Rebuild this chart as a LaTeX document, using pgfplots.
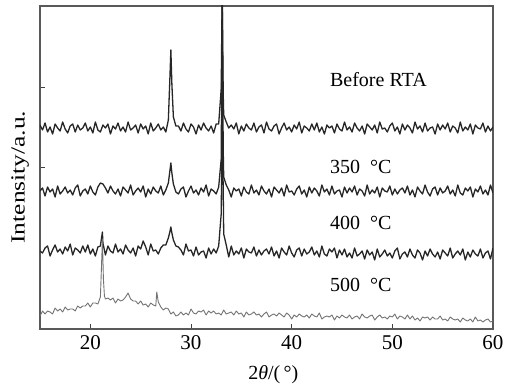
\documentclass[border=0pt]{standalone}
\usepackage{pgfplots}
\pgfplotsset{compat=1.18}
\usepackage{graphicx}
\usepackage{fontspec}
\setmainfont{Liberation Serif}
\begin{document}
\begin{tikzpicture}
\useasboundingbox (-40pt,-61pt) rectangle (480pt,329pt);
\begin{axis}[
  at={(0,0)}, anchor=south west,
  scale only axis, width=453pt, height=323pt,
  xmin=15, xmax=60, ymin=0, ymax=323,
  xtick={20,30,40,50,60},
  ytick={162,242}, yticklabels={},
  xtick pos=bottom, ytick pos=left,
  tick align=inside,
  major tick length=5pt,
  axis line style={draw=black!65, line width=1.1pt},
  tick style={draw=black!75, line width=0.9pt},
  /pgf/number format/assume math mode=true,
  ticklabel style={font=\fontsize{21}{24}\selectfont},
  xticklabel style={yshift=-3pt},
  label style={font=\fontsize{20}{24}\selectfont},
  xlabel={2\textit{θ}/(\,°)},
  ylabel={\scalebox{1.27}[1]{Intensity/a.u.}},
  xlabel style={at={(axis description cs:0.515,-0.142)}, anchor=center},
  ylabel style={at={(axis description cs:-0.044,0.47)}, anchor=center},
  clip=true,
]
% Before RTA
\addplot[black!85, line width=1.3pt, line join=round] coordinates {
(15,204)(15.25,199)(15.5,206)(15.75,197)(16,202)(16.25,195)(16.5,205)(16.75,201)(17,198)(17.25,207)
(17.5,200)(17.75,196)(18,203)(18.25,205)(18.5,197)(18.75,204)(19,199)(19.25,201)(19.5,206)(19.75,198)
(20,202)(20.25,196)(20.5,207)(20.75,199)(21,197)(21.25,204)(21.5,201)(21.75,205)(22,195)(22.25,203)
(22.5,200)(22.75,206)(23,198)(23.25,202)(23.5,197)(23.75,207)(24,199)(24.25,201)(24.5,204)(24.75,196)
(25,205)(25.25,200)(25.5,203)(25.75,195)(26,206)(26.25,198)(26.5,201)(26.75,205)(27,199)(27.25,202)
(27.5,197)(27.75,209)(27.9,250)(28,279)(28.1,245)(28.25,212)(28.5,203)(28.75,203)(29,198)(29.25,206)
(29.5,200)(29.75,197)(30,205)(30.25,202)(30.5,195)(30.75,204)(31,199)(31.25,206)(31.5,201)(31.75,198)
(32,203)(32.25,196)(32.5,205)(32.75,205)(33,240)(33.1,340)(33.2,236)(33.25,214)(33.5,207)(33.75,201)
(34,204)(34.25,200)(34.5,206)(34.75,195)(35,203)(35.25,198)(35.5,205)(35.75,201)(36,199)(36.25,206)
(36.5,197)(36.75,202)(37,204)(37.25,196)(37.5,207)(37.75,200)(38,198)(38.25,203)(38.5,205)(38.75,195)
(39,201)(39.25,206)(39.5,199)(39.75,202)(40,197)(40.25,204)(40.5,200)(40.75,207)(41,196)(41.25,203)
(41.5,201)(41.75,198)(42,205)(42.25,199)(42.5,206)(42.75,197)(43,202)(43.25,195)(43.5,204)(43.75,201)
(44,203)(44.25,196)(44.5,205)(44.75,200)(45,198)(45.25,207)(45.5,199)(45.75,202)(46,197)(46.25,206)
(46.5,201)(46.75,198)(47,203)(47.25,195)(47.5,205)(47.75,202)(48,199)(48.25,204)(48.5,196)(48.75,207)
(49,200)(49.25,201)(49.5,197)(49.75,203)(50,206)(50.25,198)(50.5,202)(50.75,195)(51,205)(51.25,199)
(51.5,204)(51.75,201)(52,196)(52.25,207)(52.5,200)(52.75,203)(53,197)(53.25,206)(53.5,198)(53.75,201)
(54,202)(54.25,195)(54.5,205)(54.75,199)(55,204)(55.25,200)(55.5,206)(55.75,197)(56,203)(56.25,201)
(56.5,196)(56.75,207)(57,198)(57.25,202)(57.5,199)(57.75,205)(58,195)(58.25,204)(58.5,201)(58.75,200)
(59,206)(59.25,197)(59.5,203)(59.75,198)(60,202)
};
% 350 C
\addplot[black!85, line width=1.3pt, line join=round] coordinates {
(15,138)(15.25,141)(15.5,133)(15.75,142)(16,137)(16.25,140)(16.5,132)(16.75,143)(17,135)(17.25,138)
(17.5,142)(17.75,136)(18,139)(18.25,134)(18.5,141)(18.75,144)(19,133)(19.25,138)(19.5,140)(19.75,135)
(20,143)(20.25,137)(20.5,134)(20.75,142)(21,146)(21.25,145)(21.5,141)(21.75,136)(22,143)(22.25,138)
(22.5,135)(22.75,140)(23,133)(23.25,142)(23.5,139)(23.75,136)(24,144)(24.25,134)(24.5,138)(24.75,141)
(25,137)(25.25,143)(25.5,132)(25.75,140)(26,135)(26.25,142)(26.5,138)(26.75,136)(27,143)(27.25,134)
(27.5,139)(27.75,146)(27.9,158)(28,166)(28.1,156)(28.25,145)(28.5,137)(28.75,135)(29,140)(29.25,142)
(29.5,132)(29.75,138)(30,143)(30.25,136)(30.5,139)(30.75,134)(31,141)(31.25,137)(31.5,144)(31.75,133)
(32,140)(32.25,138)(32.5,135)(32.75,142)(33,170)(33.1,340)(33.2,180)(33.25,152)(33.5,144)(33.75,139)
(34,132)(34.25,141)(34.5,138)(34.75,140)(35,133)(35.25,142)(35.5,137)(35.75,135)(36,144)(36.25,136)
(36.5,139)(36.75,134)(37,143)(37.25,138)(37.5,135)(37.75,140)(38,132)(38.25,142)(38.5,139)(38.75,136)
(39,141)(39.25,133)(39.5,144)(39.75,137)(40,138)(40.25,134)(40.5,140)(40.75,143)(41,135)(41.25,139)
(41.5,132)(41.75,142)(42,136)(42.25,141)(42.5,138)(42.75,133)(43,144)(43.25,137)(43.5,140)(43.75,134)
(44,143)(44.25,135)(44.5,138)(44.75,139)(45,132)(45.25,142)(45.5,136)(45.75,141)(46,137)(46.25,143)
(46.5,134)(46.75,140)(47,138)(47.25,133)(47.5,144)(47.75,135)(48,139)(48.25,136)(48.5,142)(48.75,132)
(49,141)(49.25,138)(49.5,137)(49.75,143)(50,134)(50.25,140)(50.5,135)(50.75,139)(51,141)(51.25,136)
(51.5,143)(51.75,134)(52,139)(52.25,132)(52.5,142)(52.75,138)(53,135)(53.25,144)(53.5,137)(53.75,133)
(54,140)(54.25,142)(54.5,134)(54.75,141)(55,136)(55.25,138)(55.5,143)(55.75,135)(56,139)(56.25,133)
(56.5,144)(56.75,136)(57,134)(57.25,141)(57.5,138)(57.75,142)(58,132)(58.25,140)(58.5,137)(58.75,143)
(59,135)(59.25,139)(59.5,134)(59.75,144)(60,136)
};
% 400 C
\addplot[black!85, line width=1.3pt, line join=round] coordinates {
(15,78)(15.25,76)(15.5,81)(15.75,83)(16,73)(16.25,79)(16.5,84)(16.75,77)(17,80)(17.25,75)
(17.5,82)(17.75,78)(18,85)(18.25,74)(18.5,81)(18.75,79)(19,76)(19.25,83)(19.5,77)(19.75,84)
(20,75)(20.25,80)(20.5,73)(20.75,82)(21,83)(21.2,97)(21.25,86)(21.5,74)(21.75,83)(22,78)(22.25,76)
(22.5,85)(22.75,77)(23,80)(23.25,75)(23.5,84)(23.75,79)(24,76)(24.25,81)(24.5,73)(24.75,83)
(25,80)(25.25,88)(25.5,82)(25.75,74)(26,85)(26.25,78)(26.5,79)(26.75,75)(27,81)(27.25,84)
(27.5,84)(27.75,91)(27.9,97)(28,102)(28.1,96)(28.25,89)(28.5,83)(28.75,82)(29,79)(29.25,74)
(29.5,85)(29.75,78)(30,79)(30.25,73)(30.5,82)(30.75,74)(31,77)(31.25,78)(31.5,71)(31.75,81)
(32,75)(32.25,80)(32.5,76)(32.75,83)(33,115)(33.1,209)(33.2,140)(33.25,95)(33.5,84)(33.75,72)
(34,83)(34.25,74)(34.5,78)(34.75,75)(35,81)(35.25,71)(35.5,80)(35.75,77)(36,76)(36.25,82)
(36.5,73)(36.75,79)(37,74)(37.25,78)(37.5,80)(37.75,75)(38,82)(38.25,73)(38.5,78)(38.75,71)
(39,81)(39.25,77)(39.5,74)(39.75,83)(40,76)(40.25,72)(40.5,79)(40.75,81)(41,73)(41.25,80)
(41.5,75)(41.75,77)(42,82)(42.25,74)(42.5,78)(42.75,72)(43,83)(43.25,75)(43.5,73)(43.75,80)
(44,77)(44.25,81)(44.5,71)(44.75,79)(45,74)(45.25,80)(45.5,72)(45.75,76)(46,71)(46.25,81)
(46.5,73)(46.75,75)(47,78)(47.25,70)(47.5,79)(47.75,74)(48,77)(48.25,69)(48.5,80)(48.75,72)
(49,75)(49.25,79)(49.5,73)(49.75,76)(50,71)(50.25,78)(50.5,81)(50.75,70)(51,75)(51.25,77)
(51.5,72)(51.75,80)(52,74)(52.25,71)(52.5,79)(52.75,76)(53,69)(53.25,78)(53.5,73)(53.75,80)
(54,75)(54.25,72)(54.5,77)(54.75,70)(55,79)(55.25,76)(55.5,73)(55.75,81)(56,71)(56.25,75)
(56.5,78)(56.75,74)(57,80)(57.25,69)(57.5,77)(57.75,72)(58,79)(58.25,75)(58.5,73)(58.75,80)
(59,71)(59.25,76)(59.5,78)(59.75,70)(60,81)
};
% 500 C
\addplot[black!55, line width=0.9pt, line join=round] coordinates {
(15,13)(15.25,18)(15.5,15)(15.75,18)(16,17)(16.25,15)(16.5,21)(16.75,18)(17,20)(17.25,17)
(17.5,22)(17.75,19)(18,20)(18.25,20)(18.5,18)(18.75,23)(19,21)(19.25,23)(19.5,23)(19.75,26)
(20,22)(20.25,26)(20.5,26)(20.75,25)(21,32)(21.1,60)(21.2,90)(21.3,50)(21.4,33)(21.5,30)
(21.75,31)(22,29)(22.25,31)(22.5,26)(22.75,30)(23,28)(23.25,29)(23.5,32)(23.75,36)(24,30)
(24.25,28)(24.5,28)(24.75,25)(25,28)(25.25,24)(25.5,25)(25.75,22)(26,26)(26.25,24)(26.5,23)
(26.6,37)(26.75,27)(27,22)(27.25,19)(27.5,21)(27.75,20)(28,15)(28.25,17)(28.5,13)(28.75,14)
(29,17)(29.25,14)(29.5,16)(29.75,14)(30,20)(30.25,16)(30.5,15)(30.75,18)(31,17)(31.25,19)
(31.5,14)(31.75,18)(32,16)(32.25,18)(32.5,15)(32.75,16)(33,14)(33.25,19)(33.5,15)(33.75,16)
(34,17)(34.25,14)(34.5,18)(34.75,15)(35,16)(35.25,12)(35.5,17)(35.75,14)(36,15)(36.25,17)
(36.5,14)(36.75,15)(37,12)(37.25,15)(37.5,17)(37.75,12)(38,14)(38.25,15)(38.5,13)(38.75,16)
(39,14)(39.25,12)(39.5,16)(39.75,14)(40,10)(40.25,14)(40.5,12)(40.75,15)(41,13)(41.25,12)
(41.5,14)(41.75,11)(42,15)(42.25,13)(42.5,12)(42.75,16)(43,10)(43.25,12)(43.5,13)(43.75,12)
(44,14)(44.25,9)(44.5,13)(44.75,11)(45,14)(45.25,12)(45.5,11)(45.75,14)(46,10)(46.25,12)
(46.5,13)(46.75,10)(47,15)(47.25,12)(47.5,11)(47.75,13)(48,14)(48.25,9)(48.5,12)(48.75,14)
(49,11)(49.25,12)(49.5,10)(49.75,13)(50,12)(50.25,15)(50.5,10)(50.75,13)(51,12)(51.25,10)
(51.5,14)(51.75,10)(52,13)(52.25,9)(52.5,11)(52.75,8)(53,12)(53.25,11)(53.5,12)(53.75,9)
(54,12)(54.25,10)(54.5,10)(54.75,13)(55,9)(55.25,10)(55.5,8)(55.75,12)(56,10)(56.25,9)
(56.5,10)(56.75,7)(57,11)(57.25,9)(57.5,8)(57.75,10)(58,7)(58.25,12)(58.5,8)(58.75,9)
(59,7)(59.25,9)(59.5,10)(59.75,7)(60,8)
};
\node[anchor=west, font=\fontsize{20}{24}\selectfont, inner sep=0pt] at (axis cs:43.8,249) {Before RTA};
\node[anchor=west, font=\fontsize{20}{24}\selectfont, inner sep=0pt] at (axis cs:43.8,162) {350\hspace{10pt}°C};
\node[anchor=west, font=\fontsize{20}{24}\selectfont, inner sep=0pt] at (axis cs:43.8,106) {400\hspace{10pt}°C};
\node[anchor=west, font=\fontsize{20}{24}\selectfont, inner sep=0pt] at (axis cs:43.8,44) {500\hspace{10pt}°C};
\end{axis}
\end{tikzpicture}
\end{document}
